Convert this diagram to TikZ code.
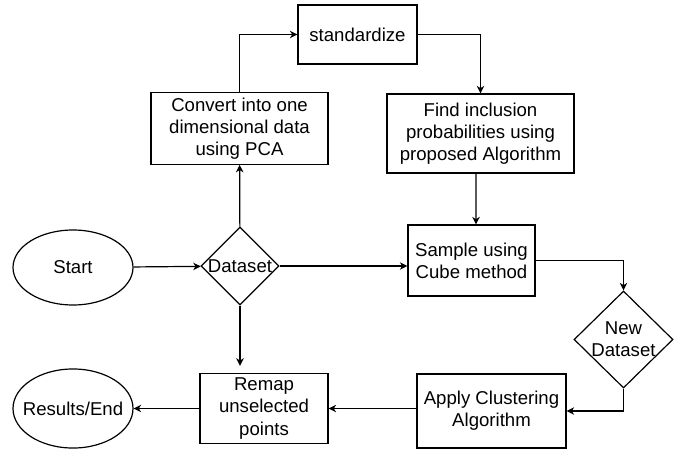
\documentclass[tikz,border=0pt]{standalone}
\usepackage{fontspec}
\setmainfont{Liberation Sans}
\usepackage{tikz}
\usetikzlibrary{shapes.geometric,arrows.meta}
\newcommand{\flowterminal}[4] {\node at (#1) (#2) [ellipse, draw, inner sep=0pt, minimum width=80pt, minimum height=#4] {\makebox[0pt]{#3}};}
\newcommand{\flowstep}[5] {\node at (#1) (#2) [rectangle, draw, align=center, minimum width=#4, minimum height=#5] {#3};}
\newcommand{\flowread}[5] {\node at (#1) (#2) [diamond, draw, align=center, inner sep=0pt, minimum width=#4, minimum height=#5] {#3};}
\newcommand{\flowtransition}[2] {\draw [->] (#1) -- (#2);}
\newcommand{\flowxup}[2] {\draw [->] (#1) |- (#2);}
\newcommand{\flowxside}[2] {\draw [->] (#1) -| (#2);}

\begin{document}
\begin{tikzpicture}[x=0.6667pt, y=-0.6667pt, line width=0.8pt,
  >={Stealth[length=5pt, width=5pt, inset=1.5pt]},
  font=\fontsize{12.4}{14.7}\selectfont]
\useasboundingbox (0,0) rectangle (694,449);

\flowterminal {73,267.5}{start}{Start}{50pt}
\flowread {240,266}{dataset}{\makebox[0pt]{Dataset}}{52pt}{52pt}
\flowstep {239.5,128.5}{convert}{Convert into one\\dimensional data\\using PCA}{118pt}{46pt}
\flowstep {357.5,34.5}{std}{standardize}{79.3pt}{39.3pt}
\flowstep {480.5,133.5}{find}{Find inclusion\\probabilities using\\proposed Algorithm}{124.7pt}{52.7pt}
\flowstep {471.5,260.5}{sample}{Sample using\\Cube method}{84.7pt}{47.3pt}
\flowread {623.5,339.5}{newdata}{\makebox[0pt]{New}\\\makebox[0pt]{Dataset}}{66pt}{64.7pt}
\flowstep {491.5,411}{apply}{Apply Clustering\\Algorithm}{99.3pt}{49.3pt}
\flowstep {264,408.5}{remap}{Remap\\unselected\\points}{85.3pt}{46pt}
\flowterminal {73,408.5}{results}{Results/End}{52.7pt}

\flowtransition {start}{dataset}
\flowtransition {dataset}{convert}
\flowxup {convert.north}{std.west}
\flowxside {std.east}{find.north}
\flowtransition {[xshift=-3pt]find.south}{[xshift=3pt]sample.north}
\flowtransition {dataset.east}{dataset.east -| sample.west}
\flowxside {sample.east}{newdata.north}
\flowxup {newdata.south}{apply.east}
\flowtransition {apply.west |- remap.east}{remap.east}
\flowtransition {remap}{results}
\draw [->, shorten >=4.5pt] (dataset.south) -- (dataset.south |- remap.north);
\end{tikzpicture}
\end{document}
